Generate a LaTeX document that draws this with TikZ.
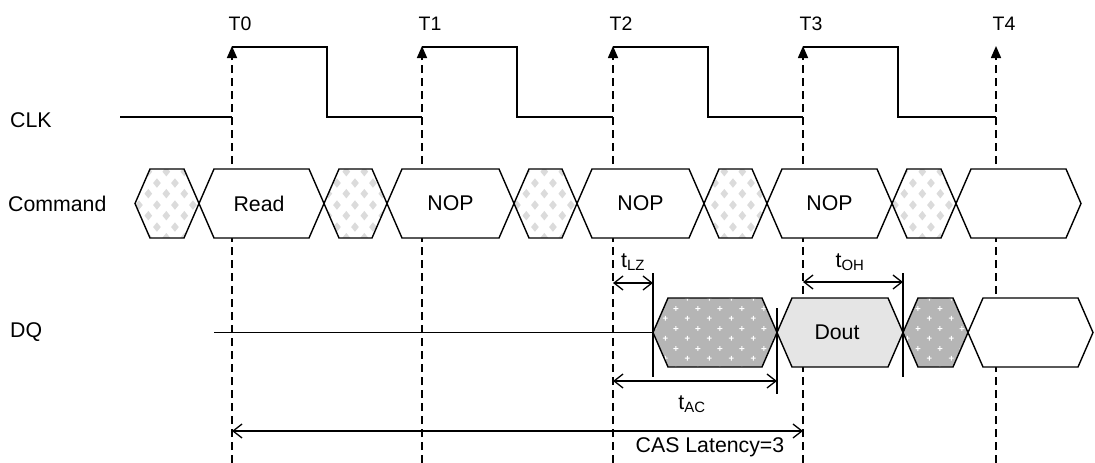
\documentclass[tikz,border=0pt]{standalone}
\usepackage{fontspec}
\setmainfont{Liberation Sans}
\usetikzlibrary{arrows.meta,patterns.meta}

\pgfdeclarepattern{
  name=diam, type=uncolored,
  bottom left={\pgfpoint{0pt}{0pt}},
  top right={\pgfpoint{18pt}{22pt}},
  tile size={\pgfpoint{18pt}{22pt}},
  code={
    \pgfpathmoveto{\pgfpoint{4.5pt}{0.6pt}}
    \pgfpathlineto{\pgfpoint{8.5pt}{5.5pt}}
    \pgfpathlineto{\pgfpoint{4.5pt}{10.4pt}}
    \pgfpathlineto{\pgfpoint{0.5pt}{5.5pt}}
    \pgfpathclose
    \pgfpathmoveto{\pgfpoint{13.5pt}{11.6pt}}
    \pgfpathlineto{\pgfpoint{17.5pt}{16.5pt}}
    \pgfpathlineto{\pgfpoint{13.5pt}{21.4pt}}
    \pgfpathlineto{\pgfpoint{9.5pt}{16.5pt}}
    \pgfpathclose
    \pgfusepath{fill}
  }
}
\pgfdeclarepattern{
  name=sparkle, type=uncolored,
  bottom left={\pgfpoint{0pt}{0pt}},
  top right={\pgfpoint{22pt}{20pt}},
  tile size={\pgfpoint{22pt}{20pt}},
  code={
    \pgfpathrectangle{\pgfpoint{3pt}{4.5pt}}{\pgfpoint{5pt}{1pt}}
    \pgfpathrectangle{\pgfpoint{5pt}{2.5pt}}{\pgfpoint{1pt}{5pt}}
    \pgfpathrectangle{\pgfpoint{14pt}{14.5pt}}{\pgfpoint{5pt}{1pt}}
    \pgfpathrectangle{\pgfpoint{16pt}{12.5pt}}{\pgfpoint{1pt}{5pt}}
    \pgfusepath{fill}
  }
}

\newcommand\hexa[4]{\path[#4] (#1,#3) -- (#1+15,#3-34.5) -- (#2-15,#3-34.5) -- (#2,#3) -- (#2-15,#3+34.5) -- (#1+15,#3+34.5) -- cycle;}
\newcommand\cmdhatch[2]{%
  \hexa{#1}{#2}{203.5}{fill=white}%
  \hexa{#1}{#2}{203.5}{pattern=diam,pattern color=black!14}%
  \hexa{#1}{#2}{203.5}{wave}}
\newcommand\cmdplain[2]{\hexa{#1}{#2}{203.5}{wave,fill=white}}
\newcommand\dqhatch[2]{%
  \hexa{#1}{#2}{332.5}{fill=black!29}%
  \hexa{#1}{#2}{332.5}{pattern=sparkle,pattern color=white}%
  \hexa{#1}{#2}{332.5}{wave}}

\begin{document}
\begin{tikzpicture}[x=1pt,y=-1pt,
  wave/.style={draw=black,line width=1.4pt,line join=miter},
  tline/.style={line width=1.6pt,dash pattern=on 8pt off 5pt,-{Triangle[length=12pt,width=10pt]}},
  marker/.style={line width=1.3pt},
  dim/.style={line width=1.3pt,{Straight Barb[length=9pt,width=14pt,line width=1.3pt]}-{Straight Barb[length=9pt,width=14pt,line width=1.3pt]}},
  lbl/.style={inner sep=0pt,font=\fontsize{21.3}{24}\selectfont},
  tlbl/.style={inner sep=0pt,font=\fontsize{19.5}{22}\selectfont}]
\useasboundingbox (0,0) rectangle (1095,463);

% clock edge reference lines
\foreach \n/\x in {0/232,1/422,2/613,3/803,4/996}{
  \coordinate (T\n bot) at (\x,463);
  \coordinate (T\n top) at (\x,46);
  \draw[tline] (T\n bot) -- (T\n top);
  \node[tlbl] (T\n lbl) at (\x+8,23.5) {T\n};
}

% CLK waveform
\draw[wave] (120,117) -- (232,117);
\draw[wave] (232,47) -- (327,47) -- (327,117) -- (422,117);
\draw[wave] (422,47) -- (517,47) -- (517,117) -- (613,117);
\draw[wave] (613,47) -- (708,47) -- (708,117) -- (803,117);
\draw[wave] (803,47) -- (898,47) -- (898,117) -- (996,117);

% signal names
\node[lbl,anchor=west] (clk) at (10,120) {CLK};
\node[lbl,anchor=west] (cmd) at (8,203.5) {Command};
\node[lbl,anchor=west] (dq) at (10,332) {DQ};

% Command row
\cmdhatch{135}{199}
\cmdplain{199}{324}
\cmdhatch{324}{387}
\cmdplain{387}{514}
\cmdhatch{514}{577}
\cmdplain{577}{704}
\cmdhatch{704}{767}
\cmdplain{767}{892}
\cmdhatch{892}{956}
\cmdplain{956}{1081}
\node[lbl] (read) at (259,203.5) {Read};
\node[lbl] (nop1) at (450.5,203.5) {NOP};
\node[lbl] (nop2) at (640.5,203.5) {NOP};
\node[lbl] (nop3) at (829.5,203.5) {NOP};

% DQ row
\draw[wave] (214,332.5) -- (653,332.5);
\dqhatch{653}{777}
\hexa{777}{903}{332.5}{wave,fill=black!10}
\dqhatch{903}{968}
\hexa{968}{1093}{332.5}{wave,fill=white}
\node[lbl] (dout) at (837,332.5) {Dout};

% markers
\coordinate (mA1) at (653,273); \coordinate (mA2) at (653,377);
\coordinate (mB1) at (777,308); \coordinate (mB2) at (777,394);
\coordinate (mC1) at (903,273); \coordinate (mC2) at (903,377);
\draw[marker] (mA1) -- (mA2);
\draw[marker] (mB1) -- (mB2);
\draw[marker] (mC1) -- (mC2);

% timing dimensions
\coordinate (lzA) at (613,283); \coordinate (lzB) at (653,283);
\coordinate (ohA) at (803,282); \coordinate (ohB) at (903,282);
\coordinate (acA) at (613,381); \coordinate (acB) at (777,381);
\coordinate (clA) at (232,431); \coordinate (clB) at (803,431);
\draw[dim] (lzA) -- (lzB);
\draw[dim] (ohA) -- (ohB);
\draw[dim] (acA) -- (acB);
\draw[dim] (clA) -- (clB);
\node[lbl] (tlz) at (633,262) {t\textsubscript{LZ}};
\node[lbl] (toh) at (850,262) {t\textsubscript{OH}};
\node[lbl] (tac) at (692,404) {t\textsubscript{AC}};
\node[lbl] (cas) at (710,447) {CAS Latency=3};
\end{tikzpicture}
\end{document}
